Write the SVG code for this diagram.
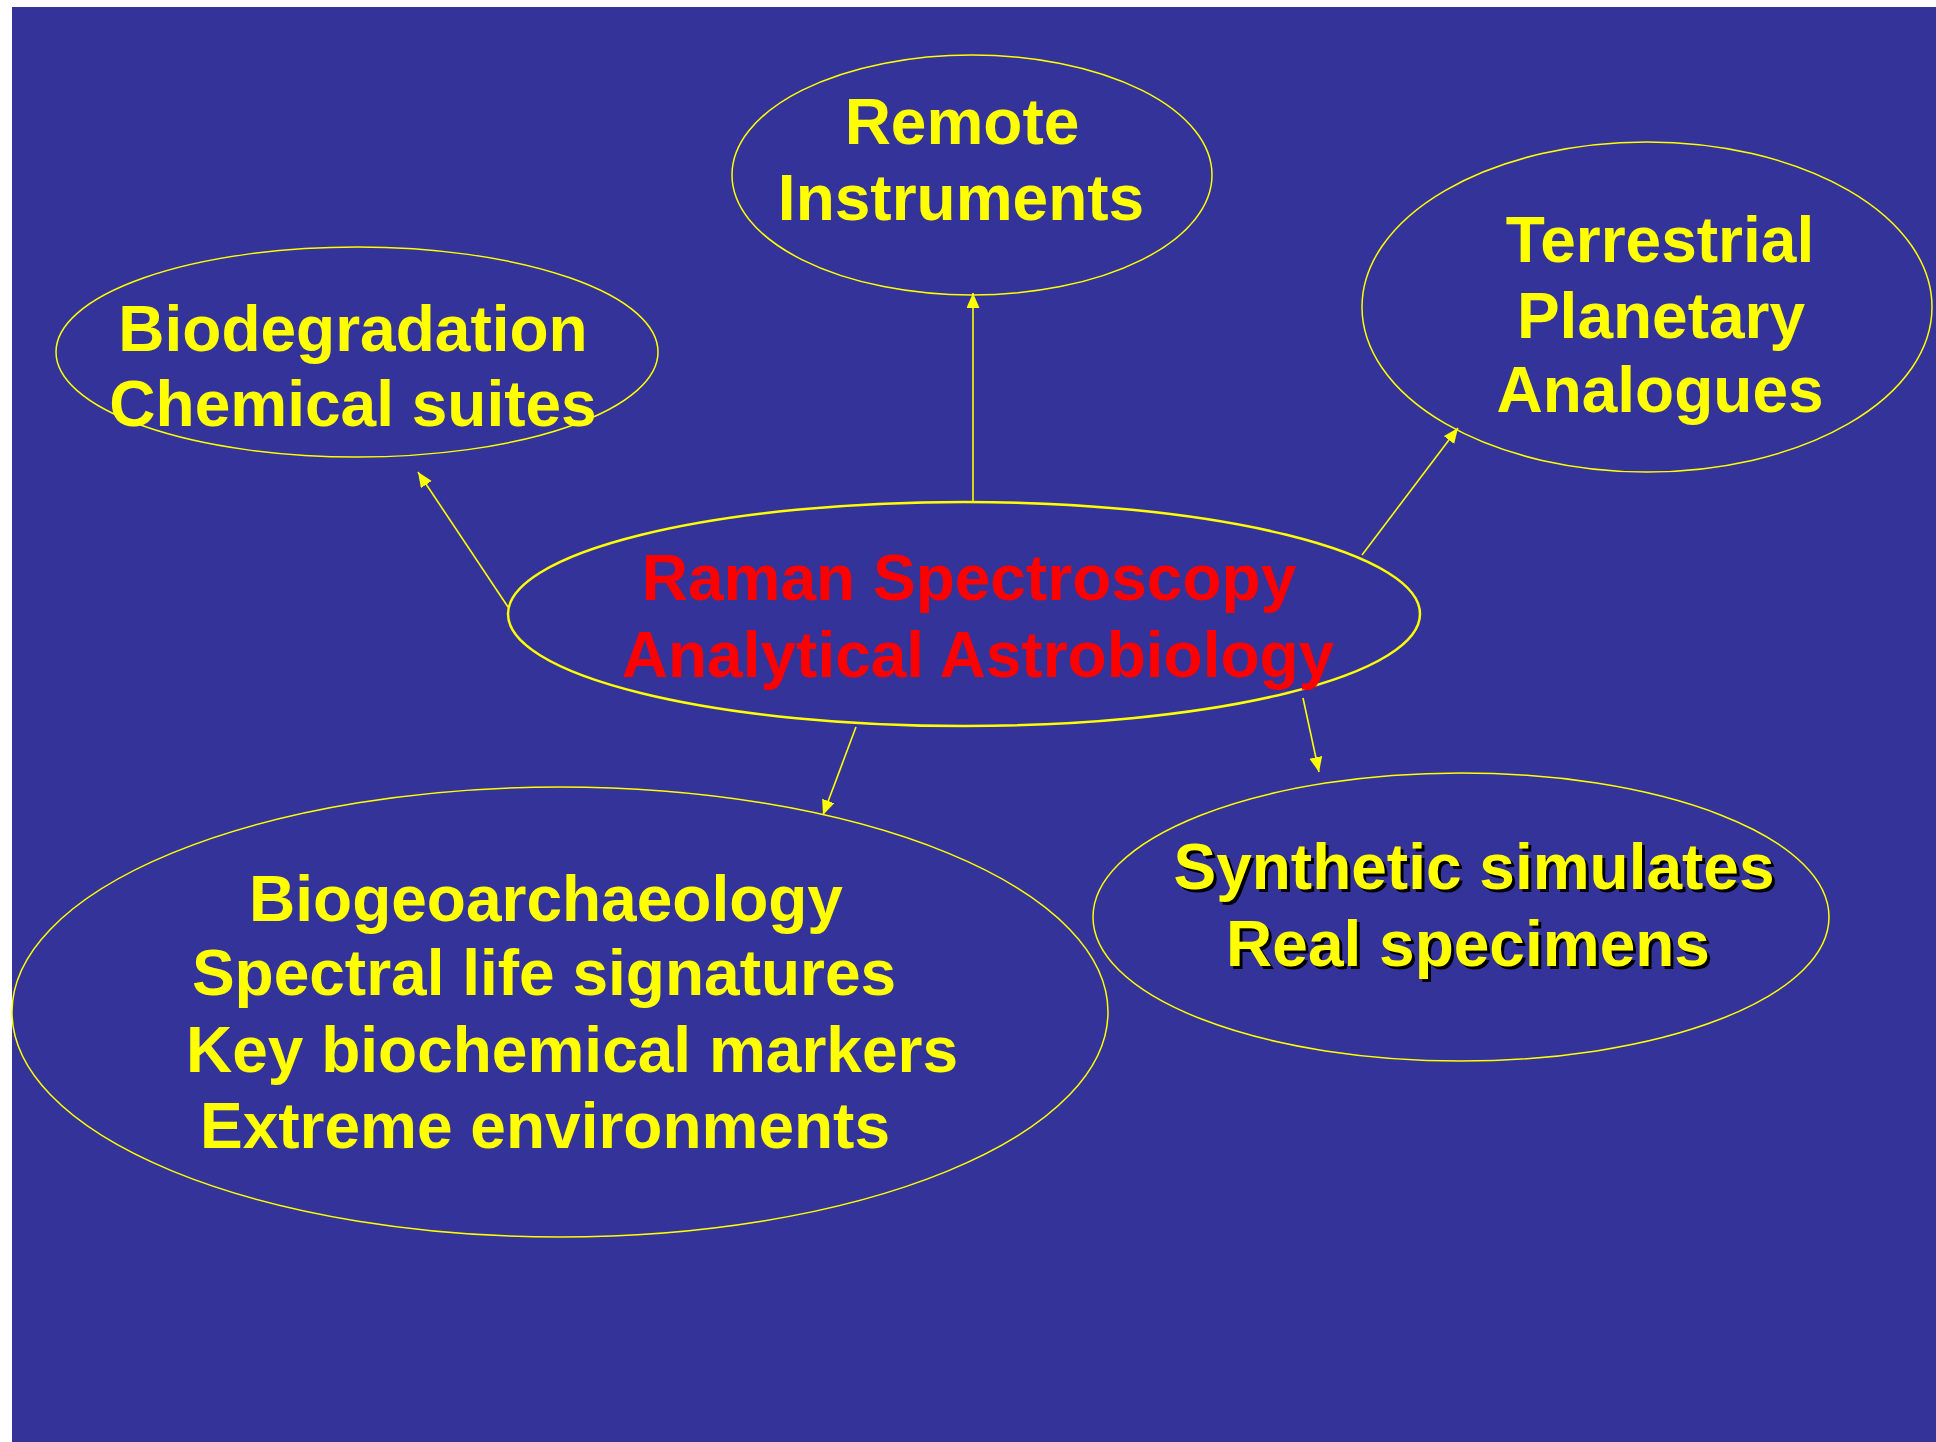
<svg xmlns="http://www.w3.org/2000/svg" width="1936" height="1442" viewBox="0 0 1936 1442">
  <defs>
    <marker id="arrow" markerUnits="userSpaceOnUse" markerWidth="16" markerHeight="14" refX="15" refY="6.5" orient="auto">
      <path d="M0,0 L15,6.5 L0,13 z" fill="#ffff00"/>
    </marker>
    <style>
      .node { fill: none; stroke: #ffff00; stroke-width: 1.5; }
      .main { fill: none; stroke: #ffff00; stroke-width: 2.5; }
      .lbl { font-family: "Liberation Sans", Arial, sans-serif; font-weight: bold; font-size: 64px; fill: #ffff00; text-anchor: middle; }
      .red { fill: #ff0000; }
      .shadow { fill: #000000; }
      .conn { stroke: #ffff00; stroke-width: 1.6; fill: none; marker-end: url(#arrow); }
    </style>
  </defs>
  <rect x="0" y="0" width="1936" height="1442" fill="#ffffff"/>
  <rect x="12" y="7" width="1924" height="1435" fill="#333399"/>

  <g id="connectors">
    <line class="conn" x1="973" y1="502" x2="973" y2="293"/>
    <line class="conn" x1="508" y1="607" x2="418" y2="472"/>
    <line class="conn" x1="1362" y1="555" x2="1458" y2="428"/>
    <line class="conn" x1="856" y1="727" x2="823" y2="815"/>
    <line class="conn" x1="1303" y1="698" x2="1319" y2="772"/>
  </g>

  <g id="center">
    <ellipse class="main" cx="964" cy="614" rx="456" ry="112"/>
    <text class="lbl red" x="969" y="600">Raman Spectroscopy</text>
    <text class="lbl red" x="978" y="677">Analytical Astrobiology</text>
  </g>

  <g id="remote">
    <ellipse class="node" cx="972" cy="175" rx="240" ry="120"/>
    <text class="lbl" x="962" y="144">Remote</text>
    <text class="lbl" x="961" y="220">Instruments</text>
  </g>

  <g id="biodegradation">
    <ellipse class="node" cx="357" cy="352" rx="301" ry="105"/>
    <text class="lbl" x="353" y="351">Biodegradation</text>
    <text class="lbl" x="353" y="426">Chemical suites</text>
  </g>

  <g id="terrestrial">
    <ellipse class="node" cx="1647" cy="307" rx="285" ry="165"/>
    <text class="lbl" x="1660" y="262">Terrestrial</text>
    <text class="lbl" x="1661" y="338">Planetary</text>
    <text class="lbl" x="1660" y="412">Analogues</text>
  </g>

  <g id="biogeo">
    <ellipse class="node" cx="560" cy="1012" rx="548" ry="225"/>
    <text class="lbl" x="546" y="921">Biogeoarchaeology</text>
    <text class="lbl" x="544" y="995">Spectral life signatures</text>
    <text class="lbl" x="572" y="1072">Key biochemical markers</text>
    <text class="lbl" x="545" y="1148">Extreme environments</text>
  </g>

  <g id="synthetic">
    <ellipse class="node" cx="1461" cy="917" rx="368" ry="144"/>
    <text class="lbl shadow" x="1477" y="892">Synthetic simulates</text>
    <text class="lbl shadow" x="1471" y="969">Real specimens</text>
    <text class="lbl" x="1474" y="889">Synthetic simulates</text>
    <text class="lbl" x="1468" y="966">Real specimens</text>
  </g>
</svg>
